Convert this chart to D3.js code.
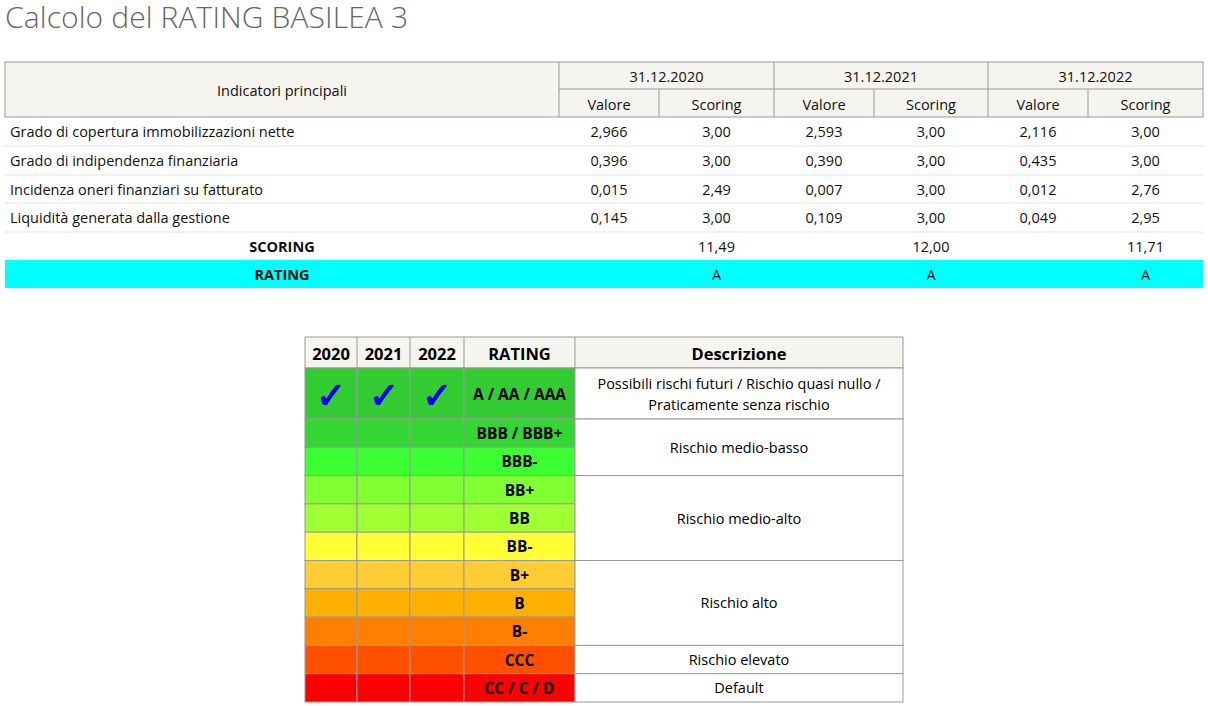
<!DOCTYPE html>
<html><head><meta charset="utf-8">
<script src="https://cdn.jsdelivr.net/npm/d3@7"></script>
<style>body{margin:0;background:#fff}text{font-family:"Open Sans","Noto Sans",sans-serif}</style>
</head><body><svg id="c" width="1208" height="706"></svg>
<script>
const years=["31.12.2020","31.12.2021","31.12.2022"];
const indicators=["Grado di copertura immobilizzazioni nette","Grado di indipendenza finanziaria","Incidenza oneri finanziari su fatturato","Liquidità generata dalla gestione"];
const valori=[["2,966","2,593","2,116"],["0,396","0,390","0,435"],["0,015","0,007","0,012"],["0,145","0,109","0,049"]];
const scoring=[["3,00","3,00","3,00"],["3,00","3,00","3,00"],["2,49","3,00","2,76"],["3,00","3,00","2,95"]];
const totScoring=["11,49","12,00","11,71"];
const ratingYear=["A","A","A"];
const ratingYears=["2020","2021","2022"];
const ratingClasses=["A / AA / AAA","BBB / BBB+","BBB-","BB+","BB","BB-","B+","B","B-","CCC","CC / C / D"];
const ratingColors=["#33cc33","#33d633","#3cff33","#80ff33","#a0ff33","#ffff33","#ffcc33","#ffb000","#ff8000","#ff5000","#ff0000"];
const checked=[[true,true,true],[false,false,false],[false,false,false],[false,false,false],[false,false,false],[false,false,false],[false,false,false],[false,false,false],[false,false,false],[false,false,false],[false,false,false]];
const descr=[{t:["Possibili rischi futuri / Rischio quasi nullo /","Praticamente senza rischio"],from:0,to:0},{t:["Rischio medio-basso"],from:1,to:2},{t:["Rischio medio-alto"],from:3,to:5},{t:["Rischio alto"],from:6,to:8},{t:["Rischio elevato"],from:9,to:9},{t:["Default"],from:10,to:10}];

const svg=d3.select("#c");
svg.append("text").attr("x",5).attr("y",28).attr("font-size",30).attr("font-weight",300).attr("fill","#666").attr("textLength",403).text("Calcolo del RATING BASILEA 3");

const cols=[5,559,659,774,874,988,1088,1203];
const rowY=[117,146,175,203,232,260,288];
const g=svg.append("g");
const hdr="#f5f4ee", bc="#999";
g.append("rect").attr("x",5).attr("y",62).attr("width",1198).attr("height",55).attr("fill",hdr).attr("stroke",bc);
[559,774,988].forEach(x=>g.append("line").attr("x1",x).attr("x2",x).attr("y1",62).attr("y2",117).attr("stroke",bc));
[659,874,1088].forEach(x=>g.append("line").attr("x1",x).attr("x2",x).attr("y1",89).attr("y2",117).attr("stroke",bc));
g.append("line").attr("x1",559).attr("x2",1203).attr("y1",89).attr("y2",89).attr("stroke",bc);
const T=(x,y,s,o={})=>g.append("text").attr("x",x).attr("y",y).attr("font-size",o.fs||14.5).attr("text-anchor",o.a||"middle").attr("dominant-baseline","central").attr("font-weight",o.w||400).attr("fill","#111").text(s);
T(282,90,"Indicatori principali");
years.forEach((y,i)=>{const x0=cols[1+2*i],x1=cols[3+2*i],xm=cols[2+2*i];T((x0+x1)/2,76,y);T((x0+xm)/2,104,"Valore");T((xm+x1)/2,104,"Scoring");});
indicators.forEach((n,r)=>{
  const yc=(rowY[r]+rowY[r+1])/2;
  T(10,yc,n,{a:"start"});
  years.forEach((_,i)=>{T((cols[1+2*i]+cols[2+2*i])/2,yc,valori[r][i]);T((cols[2+2*i]+cols[3+2*i])/2,yc,scoring[r][i]);});
  g.append("line").attr("x1",5).attr("x2",1203).attr("y1",rowY[r+1]).attr("y2",rowY[r+1]).attr("stroke","#e2e2e2");
});
T(282,246,"SCORING",{w:700});
totScoring.forEach((s,i)=>T((cols[2+2*i]+cols[3+2*i])/2,246,s));
g.insert("rect","text").attr("x",5).attr("y",260).attr("width",1198).attr("height",28).attr("fill","#00ffff");
T(282,274,"RATING",{w:700});
ratingYear.forEach((s,i)=>T((cols[2+2*i]+cols[3+2*i])/2,274,s));

const bx=[305,357,410,464,575,903];
const y=d3.scaleLinear().domain([1,11]).range([419,702]);
const rowTop=i=>i===0?368:y(i), rowBot=i=>i===0?419:y(i+1);
const b=svg.append("g");
b.append("rect").attr("x",305).attr("y",337).attr("width",598).attr("height",31).attr("fill",hdr).attr("stroke",bc);
ratingYears.concat(["RATING"]).forEach((t,i)=>b.append("text").attr("x",(bx[i]+bx[i+1])/2).attr("y",353).attr("text-anchor","middle").attr("dominant-baseline","central").attr("font-size",16.5).attr("font-weight",700).text(t));
b.append("text").attr("x",(575+903)/2).attr("y",353).attr("text-anchor","middle").attr("dominant-baseline","central").attr("font-size",16.5).attr("font-weight",700).text("Descrizione");
for(let i=0;i<4;i++)b.append("line").attr("x1",bx[i+1]).attr("x2",bx[i+1]).attr("y1",337).attr("y2",368).attr("stroke",bc);
ratingClasses.forEach((c,i)=>{
  const t=rowTop(i),h=rowBot(i)-t;
  for(let k=0;k<4;k++){
    b.append("rect").attr("x",bx[k]).attr("y",t).attr("width",bx[k+1]-bx[k]).attr("height",h).attr("fill",ratingColors[i]).attr("stroke",bc);
    if(k<3&&checked[i][k])b.append("text").attr("x",(bx[k]+bx[k+1])/2).attr("y",t+h/2+1).attr("text-anchor","middle").attr("dominant-baseline","central").attr("font-size",36).attr("font-weight",700).attr("fill","#0000ee").attr("font-family","DejaVu Sans").text("✓");
  }
  b.append("text").attr("x",(bx[3]+bx[4])/2).attr("y",t+h/2).attr("text-anchor","middle").attr("dominant-baseline","central").attr("font-size",15.5).attr("font-weight",700).text(c);
});
descr.forEach(d=>{
  const t=rowTop(d.from),bt=rowBot(d.to);
  b.append("rect").attr("x",575).attr("y",t).attr("width",328).attr("height",bt-t).attr("fill","#fff").attr("stroke",bc);
  d.t.forEach((s,j)=>b.append("text").attr("x",739).attr("y",(t+bt)/2+(j-(d.t.length-1)/2)*21).attr("text-anchor","middle").attr("dominant-baseline","central").attr("font-size",14.5).text(s));
});
</script></body></html>
